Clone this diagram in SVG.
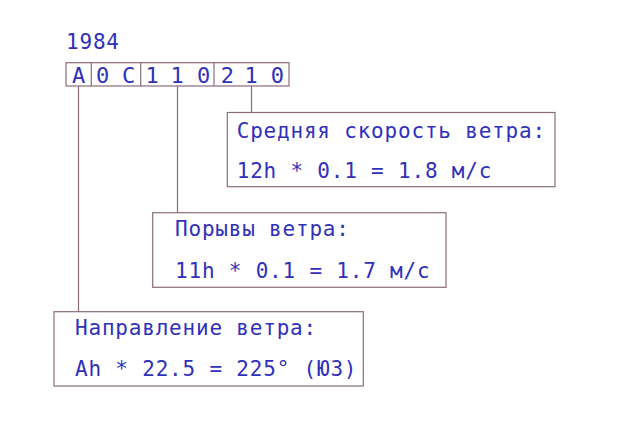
<svg xmlns="http://www.w3.org/2000/svg" width="630" height="435" viewBox="0 0 630 435">
<style>
.t{font-family:"DejaVu Sans Mono","Liberation Mono",monospace;font-size:21px;letter-spacing:0.8px;fill:#3030bb}
.c{font-family:"DejaVu Sans Mono","Liberation Mono",monospace;font-size:22px;fill:#3030bb}
.b{fill:#ffffff;stroke:#8c6c7c;stroke-width:1.2}
.l{stroke:#8c6c7c;stroke-width:1.2;fill:none}
</style>
<rect width="630" height="435" fill="#ffffff"/>
<g id="connectors">
<line class="l" x1="78.5" y1="86" x2="78.5" y2="312"/>
<line class="l" x1="177.5" y1="86" x2="177.5" y2="213"/>
<line class="l" x1="251.5" y1="86" x2="251.5" y2="112.5"/>
</g>
<g id="year">
<text class="t" x="66" y="48.7">1984</text>
</g>
<g id="code">
<rect class="b" x="66" y="62.7" width="223" height="23.3"/>
<line class="l" x1="91.3" y1="62.7" x2="91.3" y2="86"/>
<line class="l" x1="140.7" y1="62.7" x2="140.7" y2="86"/>
<line class="l" x1="214" y1="62.7" x2="214" y2="86"/>
<text class="c" x="71.9" y="82.5">A</text>
<text class="c" x="95.9 109 122.1" y="82.5">0 C</text>
<text class="c" x="145.4 158.2 170.6 183.7 196.9" y="82.5">1 1 0</text>
<text class="c" x="220.7 232.7 244.5 257.7 270.7" y="82.5">2 1 0</text>
</g>
<g id="speed">
<rect class="b" x="227.3" y="112.5" width="327.7" height="74.2"/>
<text class="t" x="236.7" y="137.7">Средняя скорость ветра:</text>
<text class="t" x="236.7" y="178.3">12h * 0.1 = 1.8 м/с</text>
</g>
<g id="gusts">
<rect class="b" x="152.7" y="212.7" width="293.3" height="74.6"/>
<text class="t" x="175" y="235.5">Порывы ветра:</text>
<text class="t" x="175" y="277.5">11h * 0.1 = 1.7 м/с</text>
</g>
<g id="direction">
<rect class="b" x="54" y="311.7" width="309.3" height="74.3"/>
<text class="t" x="75" y="335">Направление ветра:</text>
<text class="t" x="75" y="376">Ah * 22.5 = 225° (ЮЗ)</text>
</g>
</svg>
